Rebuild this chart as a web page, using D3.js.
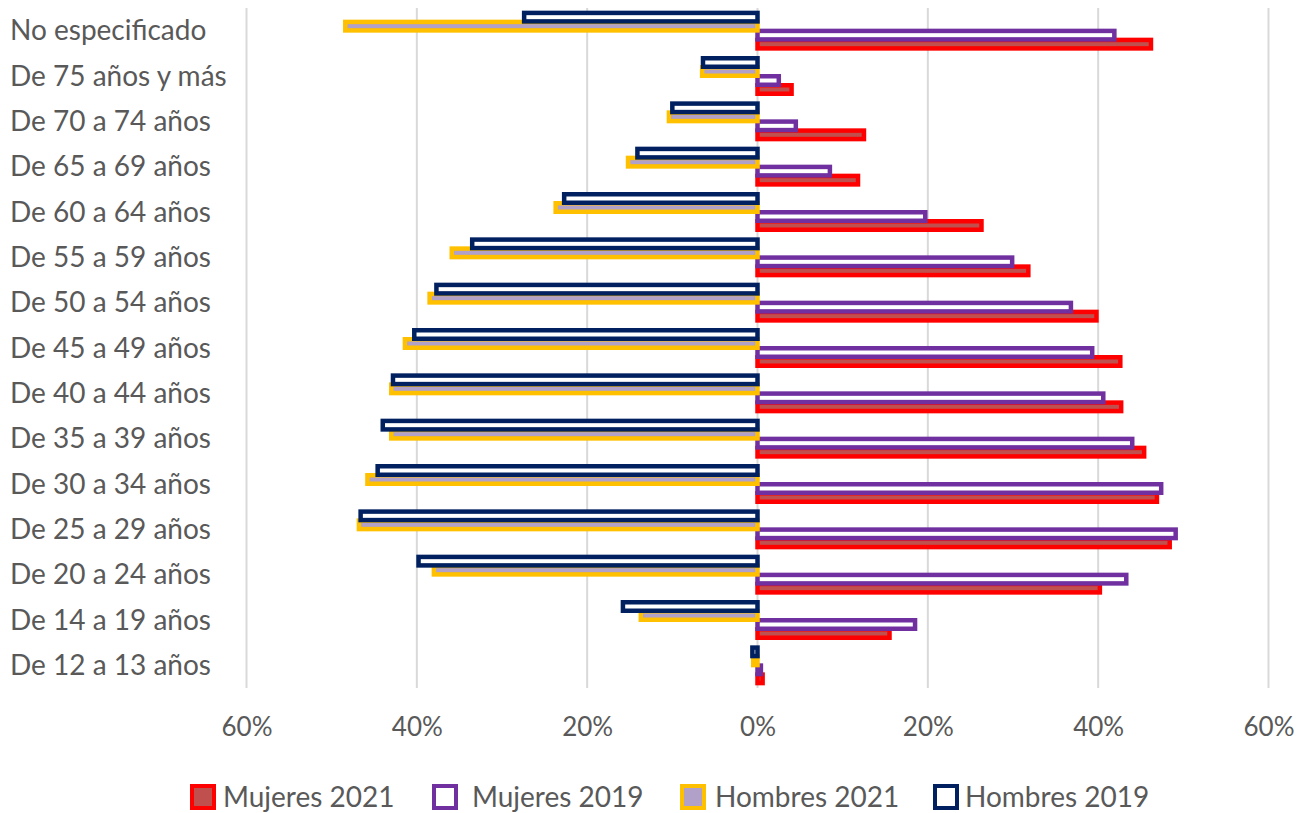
<!DOCTYPE html>
<html>
<head>
<meta charset="utf-8">
<script src="https://cdn.jsdelivr.net/npm/d3@7"></script>
<style>
  body { margin: 0; background: #ffffff; }
  text { font-family: Lato, "Open Sans", sans-serif; fill: #595959; }
</style>
</head>
<body>
<svg id="chart" width="1305" height="813"></svg>
<script>
// Age groups, listed top to bottom
const categories = [
  "No especificado", "De 75 años y más", "De 70 a 74 años", "De 65 a 69 años",
  "De 60 a 64 años", "De 55 a 59 años", "De 50 a 54 años", "De 45 a 49 años",
  "De 40 a 44 años", "De 35 a 39 años", "De 30 a 34 años", "De 25 a 29 años",
  "De 20 a 24 años", "De 14 a 19 años", "De 12 a 13 años"
];

// Percentages per age group
const mujeres2021 = [46.2, 4.0, 12.5, 11.8, 26.3, 31.8, 39.8, 42.6, 42.7, 45.4, 46.9, 48.4, 40.2, 15.5, 0.6];
const mujeres2019 = [41.9, 2.5, 4.5, 8.5, 19.7, 29.9, 36.8, 39.3, 40.6, 44.0, 47.4, 49.1, 43.3, 18.5, 0.4];
const hombres2021 = [48.4, 6.5, 10.4, 15.2, 23.7, 35.9, 38.5, 41.4, 43.0, 43.0, 45.8, 46.8, 38.0, 13.7, 0.5];
const hombres2019 = [27.4, 6.4, 10.0, 14.1, 22.7, 33.5, 37.7, 40.3, 42.8, 44.0, 44.6, 46.6, 39.8, 15.8, 0.6];

const tickValues = [-60, -40, -20, 0, 20, 40, 60];

const LABEL_FONT = 28;
const TICK_FONT = 26;

// Series in drawing order; slot = vertical position inside each group (0 = top)
const series = [
  { name: "Mujeres 2021", values: mujeres2021, side: 1,  slot: 3, fill: "#c0504d", stroke: "#ff0000" },
  { name: "Mujeres 2019", values: mujeres2019, side: 1,  slot: 2, fill: "#ffffff", stroke: "#7030a0" },
  { name: "Hombres 2021", values: hombres2021, side: -1, slot: 1, fill: "#b1a0c7", stroke: "#ffc000" },
  { name: "Hombres 2019", values: hombres2019, side: -1, slot: 0, fill: "#ffffff", stroke: "#002060" }
];

const svg = d3.select("#chart");

const x = d3.scaleLinear().domain([-60, 60]).range([246.5, 1268.5]);
const y = d3.scaleBand().domain(categories).range([8, 688]);
const sub = d3.scalePoint().domain([0, 1, 2, 3]).range([-13.5, 13.5]);
const barH = 8.5;

// Vertical gridlines
svg.append("g")
  .selectAll("line")
  .data(tickValues)
  .join("line")
  .attr("x1", d => x(d)).attr("x2", d => x(d))
  .attr("y1", 8).attr("y2", 688)
  .attr("stroke", "#d9d9d9")
  .attr("stroke-width", 2);

// Bars
series.forEach(s => {
  svg.append("g")
    .selectAll("rect")
    .data(categories.map((c, i) => ({ c, v: s.values[i] })))
    .join("rect")
    .attr("x", d => Math.min(x(0), x(s.side * d.v)))
    .attr("width", d => Math.abs(x(s.side * d.v) - x(0)))
    .attr("y", d => y(d.c) + y.bandwidth() / 2 + sub(s.slot) - barH / 2)
    .attr("height", barH)
    .attr("fill", s.fill)
    .attr("stroke", s.stroke)
    .attr("stroke-width", 4.5);
});

// Category labels, left aligned
svg.append("g")
  .selectAll("text")
  .data(categories)
  .join("text")
  .attr("x", 10)
  .attr("y", d => y(d) + y.bandwidth() / 2)
  .attr("dy", "0.35em")
  .style("font-size", LABEL_FONT + "px")
  .text(d => d);

// Value axis
const axis = d3.axisBottom(x)
  .tickValues(tickValues)
  .tickFormat(d => Math.abs(d) + "%")
  .tickSize(0)
  .tickPadding(30);

const gx = svg.append("g").attr("transform", "translate(0,688)").call(axis);
gx.select(".domain").remove();
gx.selectAll("text")
  .style("font-size", TICK_FONT + "px")
  .style("font-family", "Lato, 'Open Sans', sans-serif")
  .attr("fill", "#595959");

// Legend
const legendX = [190, 432, 680, 933];
const textX = [223, 472, 715, 965];
const legend = svg.append("g").attr("transform", "translate(0,797)");
series.forEach((s, i) => {
  legend.append("rect")
    .attr("x", legendX[i] + 2)
    .attr("y", -11)
    .attr("width", 22)
    .attr("height", 22)
    .attr("fill", s.fill)
    .attr("stroke", s.stroke)
    .attr("stroke-width", 4);
  legend.append("text")
    .attr("x", textX[i])
    .attr("y", 0)
    .attr("dy", "0.35em")
    .style("font-size", LABEL_FONT + "px")
    .text(s.name);
});
</script>
</body>
</html>
